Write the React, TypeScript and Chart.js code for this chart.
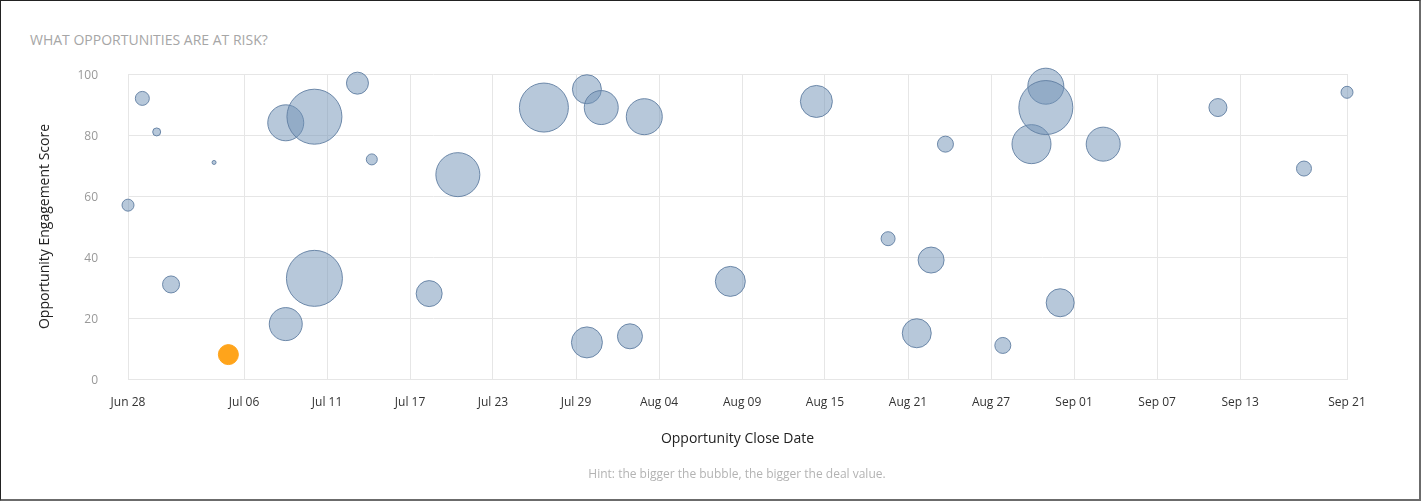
import React, { useEffect, useRef } from "react";
import { Chart, registerables } from "chart.js";

Chart.register(...registerables);

// Days after Jun 28 (Jun 28 = day 0)
const closeDay = [0, 1, 2, 3, 6, 11, 11, 13, 13, 16, 17, 21, 23, 29, 32, 32, 33, 35, 36, 42, 48, 53, 55, 56, 57, 61, 63, 64, 64, 65, 68, 76, 82, 85];
const engagementScore = [57, 92, 81, 31, 71, 84, 18, 86, 33, 97, 72, 28, 67, 89, 95, 12, 89, 14, 86, 32, 91, 46, 15, 39, 77, 11, 77, 96, 89, 25, 77, 89, 69, 94];
const bubbleRadius = [6, 7, 4, 8.5, 2, 18, 16.5, 27.5, 28, 11, 5.5, 13, 22, 24.5, 14.5, 15.5, 17, 12.5, 18, 15, 16, 7, 14.5, 13, 8, 8, 19.5, 18, 27, 14, 17, 9, 7.5, 6];

const riskDay = [7];
const riskScore = [8];
const riskRadius = [10];

const xTickDays = [0, 8.09, 13.88, 19.67, 25.45, 31.24, 37.03, 42.82, 48.6, 54.39, 60.18, 65.97, 71.76, 77.55, 85];
const xTickLabels = ["Jun 28", "Jul 06", "Jul 11", "Jul 17", "Jul 23", "Jul 29", "Aug 04", "Aug 09", "Aug 15", "Aug 21", "Aug 27", "Sep 01", "Sep 07", "Sep 13", "Sep 21"];
const yTickValues = [0, 20, 40, 60, 80, 100];

const FONT = "'Open Sans', 'Noto Sans', sans-serif";

export default function App() {
  const ref = useRef<HTMLCanvasElement>(null);

  useEffect(() => {
    document.body.style.margin = "0";
    const chart = new Chart(ref.current!, {
      type: "bubble",
      data: {
        datasets: [
          {
            label: "Opportunities",
            data: closeDay.map((d, i) => ({ x: d, y: engagementScore[i], r: bubbleRadius[i] })),
            backgroundColor: "rgba(111,145,181,0.5)",
            borderColor: "rgba(96,126,162,0.9)",
            borderWidth: 1,
            clip: false,
          },
          {
            label: "At risk",
            data: riskDay.map((d, i) => ({ x: d, y: riskScore[i], r: riskRadius[i] })),
            backgroundColor: "#ffa41b",
            borderColor: "#ffa41b",
            borderWidth: 1,
            clip: false,
          },
        ],
      },
      options: {
        animation: false,
        responsive: false,
        maintainAspectRatio: false,
        layout: { padding: { left: 30, top: 73, right: 72, bottom: 40 } },
        plugins: {
          legend: { display: false },
          tooltip: { enabled: false },
          title: { display: false },
        },
        scales: {
          x: {
            type: "linear",
            min: 0,
            max: 85,
            afterBuildTicks: (s: any) => {
              s.ticks = xTickDays.map((v) => ({ value: v }));
            },
            afterFit: (s: any) => {
              s.height = 80;
            },
            grid: { color: "#e6e6e6", drawTicks: false },
            border: { color: "#e6e6e6" },
            ticks: {
              padding: 16,
              color: "#333333",
              autoSkip: false,
              maxRotation: 0,
              font: { family: FONT, size: 12 },
              callback: (_v: any, i: number) => xTickLabels[i],
            },
            title: {
              display: true,
              text: "Opportunity Close Date",
              color: "#222222",
              font: { family: FONT, size: 14 },
              padding: { top: 0, bottom: 12 },
            },
          },
          y: {
            type: "linear",
            min: 0,
            max: 100,
            afterBuildTicks: (s: any) => {
              s.ticks = yTickValues.map((v) => ({ value: v }));
            },
            afterFit: (s: any) => {
              s.width = 97;
            },
            grid: { color: "#e6e6e6", drawTicks: false },
            border: { color: "#e6e6e6" },
            ticks: {
              padding: 30,
              labelOffset: 1.5,
              color: "#999999",
              font: { family: FONT, size: 12 },
            },
            title: {
              display: true,
              text: "Opportunity Engagement Score",
              color: "#222222",
              font: { family: FONT, size: 14 },
              padding: { top: 6, bottom: 0 },
            },
          },
        },
      },
    } as any);
    return () => chart.destroy();
  }, []);

  return (
    <div
      style={{
        position: "relative",
        width: 1421,
        height: 501,
        boxSizing: "border-box",
        borderTop: "1px solid #222",
        borderLeft: "1px solid #222",
        borderRight: "2px solid #6b6b6b",
        borderBottom: "2px solid #6b6b6b",
        background: "#fff",
        overflow: "hidden",
      }}
    >
      <div
        style={{
          position: "absolute",
          left: 29,
          top: 29,
          lineHeight: "20px",
          fontFamily: FONT,
          fontSize: 14,
          color: "#a6a6a6",
          whiteSpace: "nowrap",
        }}
      >
        WHAT OPPORTUNITIES ARE AT RISK?
      </div>
      <canvas ref={ref} width={1418} height={498} style={{ position: "absolute", left: 0, top: 0 }} />
      <div
        style={{
          position: "absolute",
          left: 436,
          width: 600,
          top: 465,
          lineHeight: "16px",
          textAlign: "center",
          fontFamily: FONT,
          fontSize: 12,
          color: "#b3b3b3",
          whiteSpace: "nowrap",
        }}
      >
        Hint: the bigger the bubble, the bigger the deal value.
      </div>
    </div>
  );
}
